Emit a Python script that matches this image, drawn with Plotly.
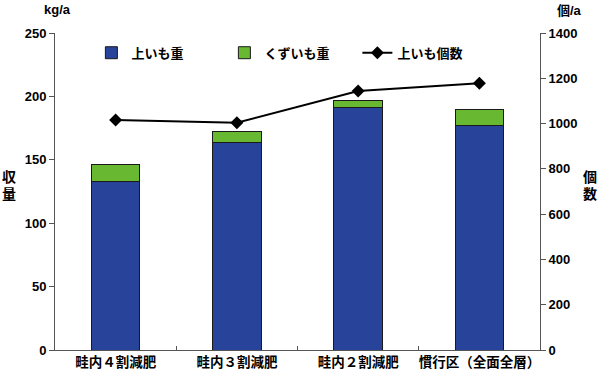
import plotly.graph_objects as go

categories = ["畦内４割減肥", "畦内３割減肥", "畦内２割減肥", "慣行区（全面全層）"]
upper_weight = [133, 164, 191, 177]
waste_weight = [13, 8.5, 6, 12.5]
upper_count = [1016, 1004, 1144, 1178]

FONT = "Liberation Sans, Noto Sans CJK JP"

fig = go.Figure()
fig.add_trace(go.Bar(x=categories, y=upper_weight, name="上いも重",
                     marker=dict(color="#27449A", line=dict(color="#1a1a1a", width=1)),
                     width=0.4))
fig.add_trace(go.Bar(x=categories, y=waste_weight, name="くずいも重",
                     marker=dict(color="#69B831", line=dict(color="#1a1a1a", width=1)),
                     width=0.4))
fig.add_trace(go.Scatter(x=categories, y=upper_count, name="上いも個数", yaxis="y2",
                         mode="lines+markers",
                         line=dict(color="black", width=2),
                         marker=dict(symbol="diamond", size=10, color="black")))

fig.update_layout(
    barmode="stack",
    width=600, height=377,
    margin=dict(l=55, r=60, t=33, b=27, autoexpand=False),
    plot_bgcolor="white", paper_bgcolor="white",
    font=dict(family=FONT, size=13, color="black", weight="bold"),
    showlegend=True,
    legend=dict(orientation="h", x=0.075, y=0.985, xanchor="left", yanchor="top",
                font=dict(size=13, family=FONT, weight="bold"), bgcolor="rgba(0,0,0,0)",
                entrywidth=88, entrywidthmode="pixels", traceorder="normal"),
    xaxis=dict(showline=True, linecolor="#555", linewidth=1, automargin=False,
               ticks="inside", tickson="boundaries", ticklen=4, tickcolor="#555",
               tickangle=0,
               tickfont=dict(size=13.5, family=FONT, weight="bold"), showgrid=False),
    yaxis=dict(range=[0, 250], dtick=50, showline=True, linecolor="#555", linewidth=1,
               ticks="outside", ticklen=5, tickcolor="#555", showgrid=False, automargin=False,
               zeroline=False, tickfont=dict(size=13, family=FONT, weight="bold")),
    yaxis2=dict(range=[0, 1400], dtick=200, overlaying="y", side="right",
                showline=True, linecolor="#555", linewidth=1, automargin=False,
                ticks="outside", ticklen=5, tickcolor="#555", showgrid=False,
                zeroline=False, tickfont=dict(size=13, family=FONT, weight="bold")),
)

def px_x(x):
    return (x - 55) / 485

def px_y(y):
    return (350 - y) / 317

fig.add_annotation(text="kg/a", xref="paper", yref="paper", x=px_x(57), y=px_y(9),
                   xanchor="center", yanchor="middle", showarrow=False)
fig.add_annotation(text="個/a", xref="paper", yref="paper", x=px_x(569), y=px_y(10),
                   xanchor="center", yanchor="middle", showarrow=False)
for i, ch in enumerate("収量"):
    fig.add_annotation(text=ch, xref="paper", yref="paper", x=px_x(9), y=px_y(177 + 17 * i),
                       xanchor="center", yanchor="middle", showarrow=False, font=dict(size=14))
for i, ch in enumerate("個数"):
    fig.add_annotation(text=ch, xref="paper", yref="paper", x=px_x(590), y=px_y(177 + 17 * i),
                       xanchor="center", yanchor="middle", showarrow=False, font=dict(size=14))

fig.write_html("out.html", config={"displayModeBar": False},
               post_script="document.body.style.margin='0';document.body.style.overflow='hidden';")
